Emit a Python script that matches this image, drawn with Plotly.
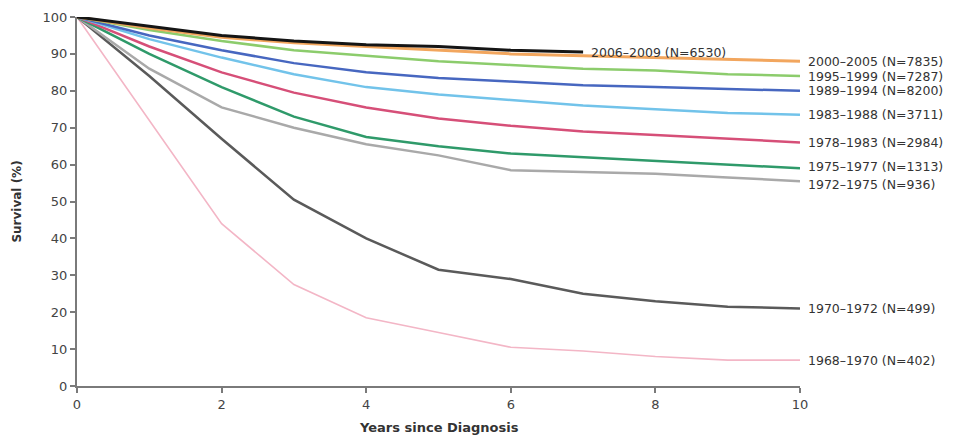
import plotly.graph_objects as go

years = [0, 1, 2, 3, 4, 5, 6, 7, 8, 9, 10]
years_2006 = [0, 1, 2, 3, 4, 5, 6, 7]

labels = [
    "2006–2009 (N=6530)",
    "2000–2005 (N=7835)",
    "1995–1999 (N=7287)",
    "1989–1994 (N=8200)",
    "1983–1988 (N=3711)",
    "1978–1983 (N=2984)",
    "1975–1977 (N=1313)",
    "1972–1975 (N=936)",
    "1970–1972 (N=499)",
    "1968–1970 (N=402)",
]

s_2006_2009 = [100, 97.5, 95, 93.5, 92.5, 92, 91, 90.5]
s_2000_2005 = [100, 97, 94.5, 93, 92, 91, 90, 89.5, 89, 88.5, 88]
s_1995_1999 = [100, 96.5, 93.5, 91, 89.5, 88, 87, 86, 85.5, 84.5, 84]
s_1989_1994 = [100, 95, 91, 87.5, 85, 83.5, 82.5, 81.5, 81, 80.5, 80]
s_1983_1988 = [100, 94, 89, 84.5, 81, 79, 77.5, 76, 75, 74, 73.5]
s_1978_1983 = [100, 92, 85, 79.5, 75.5, 72.5, 70.5, 69, 68, 67, 66]
s_1975_1977 = [100, 90, 81, 73, 67.5, 65, 63, 62, 61, 60, 59]
s_1972_1975 = [100, 86, 75.5, 70, 65.5, 62.5, 58.5, 58, 57.5, 56.5, 55.5]
s_1970_1972 = [100, 84, 67, 50.5, 40, 31.5, 29, 25, 23, 21.5, 21]
s_1968_1970 = [100, 72, 44, 27.5, 18.5, 14.5, 10.5, 9.5, 8, 7, 7]

series = [
    (years_2006, s_2006_2009, "#151515", 3),
    (years, s_2000_2005, "#f2a65e", 3),
    (years, s_1995_1999, "#8ccc6c", 2.5),
    (years, s_1989_1994, "#4767c0", 2.5),
    (years, s_1983_1988, "#72c3ea", 2.5),
    (years, s_1978_1983, "#d64f78", 2.5),
    (years, s_1975_1977, "#2f9a6a", 2.5),
    (years, s_1972_1975, "#a9a9a9", 2.5),
    (years, s_1970_1972, "#5a5a5a", 2.5),
    (years, s_1968_1970, "#f3b6c6", 1.6),
]
label_yshift = [0, 0, 0, 0, 0, 0, 2, -3, 0, 0]

fig = go.Figure()
for (xs, ys, col, w), lab in reversed(list(zip(series, labels))):
    fig.add_trace(go.Scatter(x=xs, y=ys, mode="lines", name=lab,
                             line=dict(color=col, width=w), cliponaxis=False,
                             showlegend=False))

for (xs, ys, col, w), lab, dy in zip(series, labels, label_yshift):
    fig.add_annotation(x=xs[-1], y=ys[-1], text=lab, showarrow=False,
                       xanchor="left", yanchor="middle", xshift=6, yshift=dy,
                       font=dict(family="DejaVu Sans", size=12.5, color="#333333"))

# x-axis title placed below the tick labels
fig.add_annotation(x=0.5, y=0, xref="paper", yref="paper", yanchor="top",
                   yshift=-32, showarrow=False,
                   text="<b>Years since Diagnosis</b>",
                   font=dict(family="DejaVu Sans", size=13, color="#333333"))

axis_common = dict(showgrid=False, zeroline=False, showline=True,
                   linecolor="#7a7a7a", linewidth=2, ticks="outside",
                   tickcolor="#7a7a7a", ticklen=5, tickwidth=1.5, automargin=False,
                   tickfont=dict(family="DejaVu Sans", size=13, color="#444444"))

fig.update_xaxes(range=[0, 10], tickvals=[0, 2, 4, 6, 8, 10], **axis_common)
fig.update_yaxes(range=[0, 100], tickvals=list(range(0, 101, 10)),
                 title=dict(text="<b>Survival (%)</b>",
                            font=dict(family="DejaVu Sans", size=12, color="#333333"),
                            standoff=18),
                 **axis_common)

fig.update_layout(width=950, height=429,
                  margin=dict(l=69, r=158, t=9, b=51, autoexpand=False),
                  plot_bgcolor="white", paper_bgcolor="white")

fig.write_html("out.html")
